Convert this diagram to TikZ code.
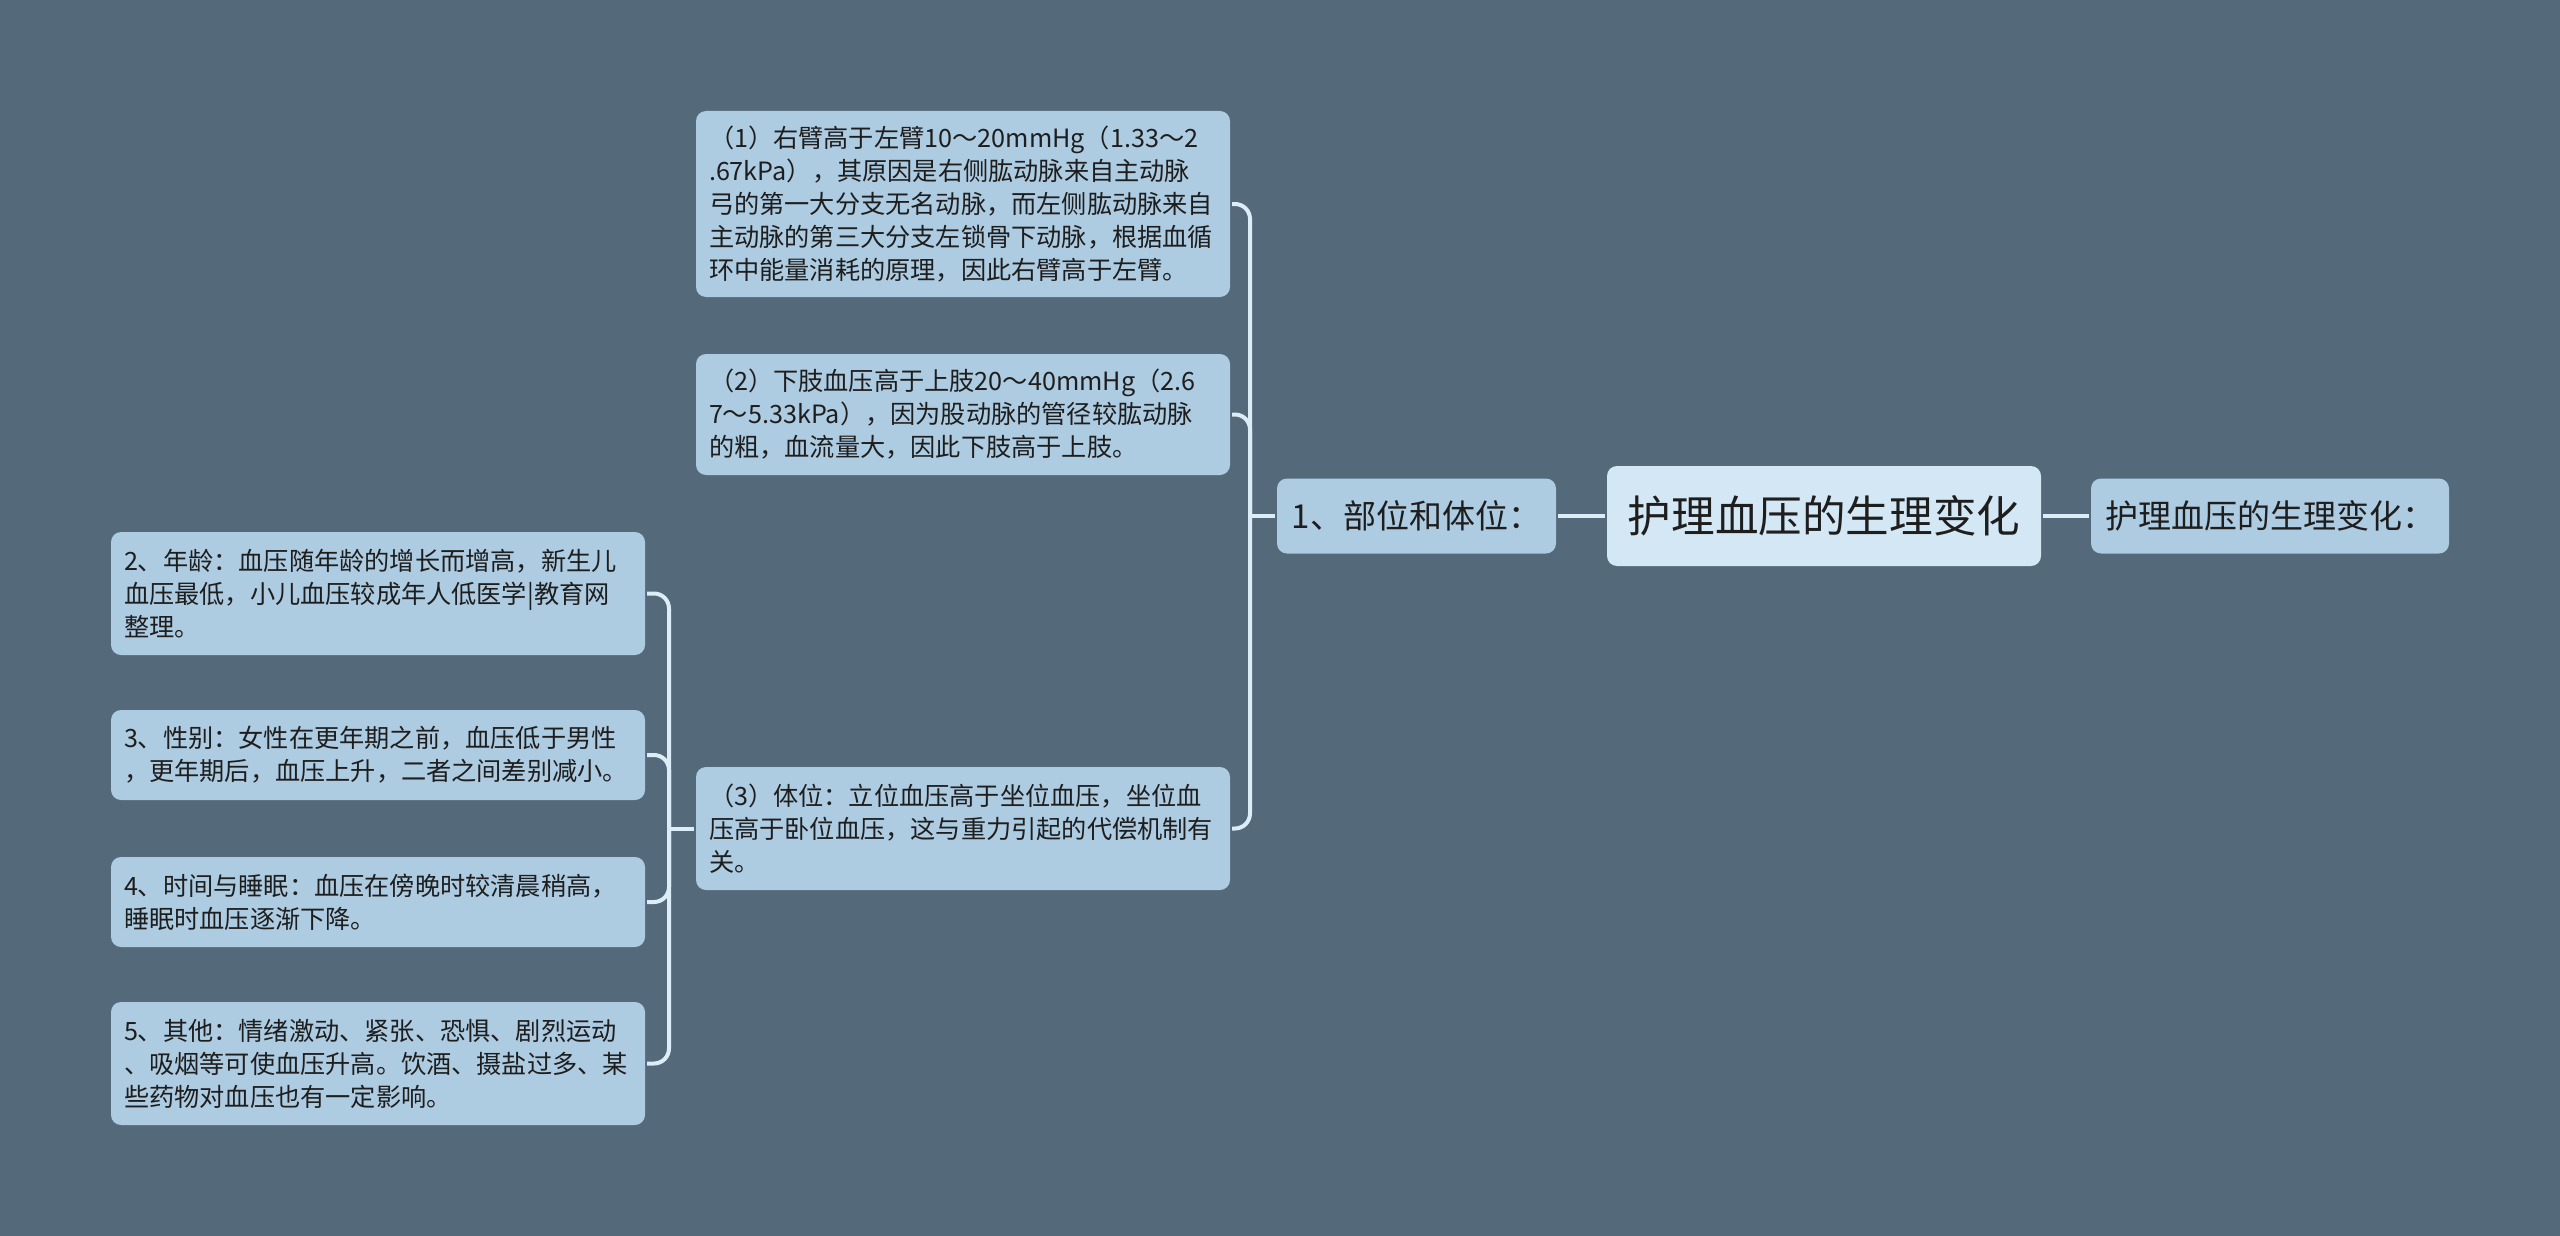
\documentclass[tikz,border=0pt]{standalone}
\usepackage{fontspec}
\setmainfont{Noto Sans CJK SC}
\usetikzlibrary{positioning}
\definecolor{cbg}{HTML}{54697A}
\definecolor{cbox}{HTML}{ADCBE1}
\definecolor{croot}{HTML}{D4E7F4}
\definecolor{clink}{HTML}{DCEDF8}
\definecolor{ctext}{HTML}{1E1E1E}
\tikzset{
  every picture/.style={line width=2pt},
  box/.style={fill=#1, rounded corners=5pt, text=ctext, inner xsep=6.5pt, inner ysep=0pt},
  box/.default=cbox,
  leaf/.style={box, anchor=west, align=left, text width=254pt, font=\fontsize{12.6pt}{16.5pt}\selectfont},
  topic/.style={box, minimum height=37.5pt, font=\fontsize{16.5pt}{19pt}\selectfont},
  link/.style={draw=clink, line width=2pt},
}

\begin{document}
\begin{tikzpicture}[x=0.5pt, y=-0.5pt]
  \fill[cbg] (0,0) rectangle (2560,1236);
  % centre and first level
  \node[box=croot, minimum width=217pt, minimum height=50pt, font=\fontsize{21.8pt}{26pt}\selectfont] (root) at (1824,516) {护理血压的生理变化};
  \node[topic, minimum width=139.5pt] (pos) at (1416.5,516) {1、部位和体位：};
  \node[topic, minimum width=179pt] (note) at (2270,516) {护理血压的生理变化：};
  % second level
  \node[leaf, minimum height=93pt] (arm) at (694,204) {（1）右臂高于左臂10～20mmHg（1.33～2\\.67kPa），其原因是右侧肱动脉来自主动脉\\弓的第一大分支无名动脉，而左侧肱动脉来自\\主动脉的第三大分支左锁骨下动脉，根据血循\\环中能量消耗的原理，因此右臂高于左臂。};
  \node[leaf, minimum height=60.5pt] (limb) at (694,414.5) {（2）下肢血压高于上肢20～40mmHg（2.6\\7～5.33kPa），因为股动脉的管径较肱动脉\\的粗，血流量大，因此下肢高于上肢。};
  \node[leaf, minimum height=61.5pt] (body) at (694,828.5) {（3）体位：立位血压高于坐位血压，坐位血\\压高于卧位血压，这与重力引起的代偿机制有\\关。};
  % third level
  \node[leaf, minimum height=61.5pt] (age) at (109,593.5) {2、年龄：血压随年龄的增长而增高，新生儿\\血压最低，小儿血压较成年人低医学|教育网\\整理。};
  \node[leaf, minimum height=45pt] (sex) at (109,755) {3、性别：女性在更年期之前，血压低于男性\\，更年期后，血压上升，二者之间差别减小。};
  \node[leaf, minimum height=45pt] (sleep) at (109,902) {4、时间与睡眠：血压在傍晚时较清晨稍高，\\睡眠时血压逐渐下降。};
  \node[leaf, minimum height=61.5pt] (other) at (109,1063.5) {5、其他：情绪激动、紧张、恐惧、剧烈运动\\、吸烟等可使血压升高。饮酒、摄盐过多、某\\些药物对血压也有一定影响。};

  \draw[link] (root.west) -- (pos.east);
  \draw[link] (note.west) -- (root.east);
  \coordinate[left=12.5pt of pos] (hub);
  \draw[link] (pos.west) -- (hub);
  \foreach \n in {arm,limb,body}
    \draw[link, rounded corners=7.5pt] (hub) |- (\n.east);
  \coordinate[left=12.5pt of body] (hubb);
  \draw[link] (body.west) -- (hubb);
  \foreach \n in {age,sex,sleep,other}
    \draw[link, rounded corners=7.5pt] (hubb) |- (\n.east);
\end{tikzpicture}
\end{document}
